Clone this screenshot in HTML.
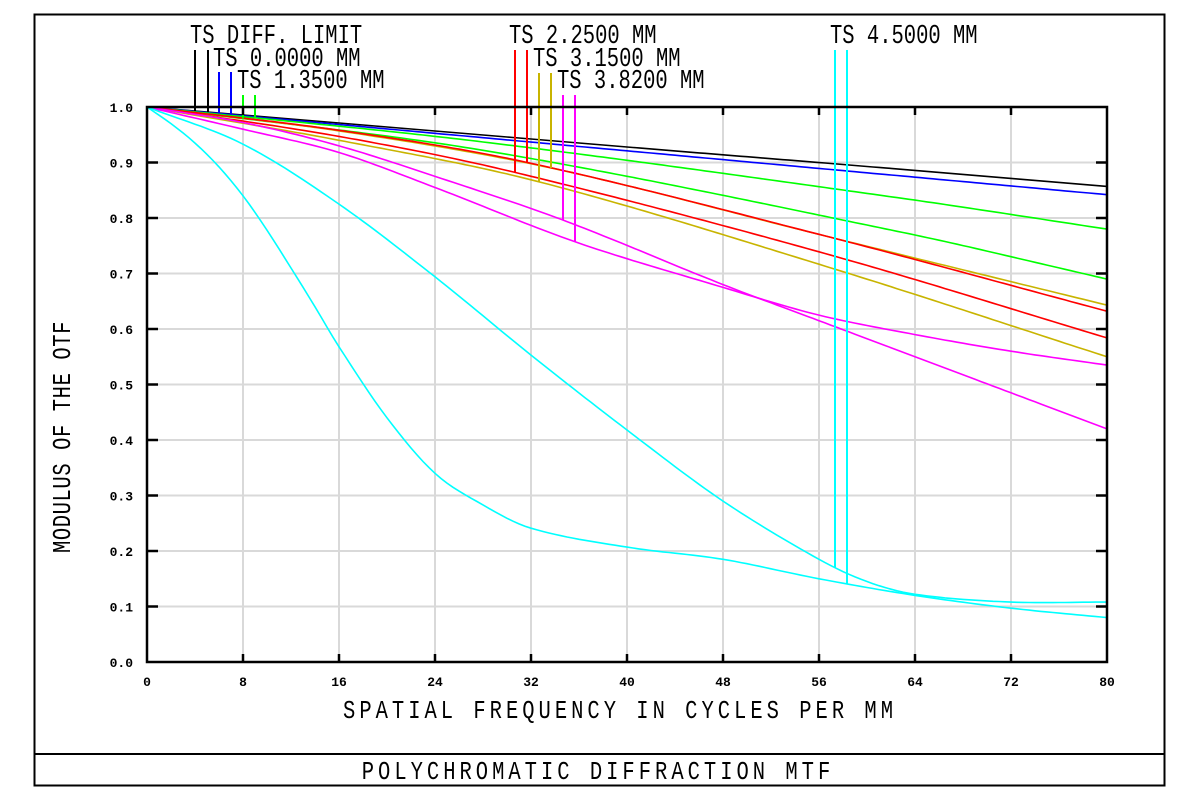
<!DOCTYPE html>
<html><head><meta charset="utf-8"><style>
html,body{margin:0;padding:0;background:#fff;width:1200px;height:802px;overflow:hidden}
svg text{font-family:"Liberation Mono","DejaVu Sans Mono",monospace;fill:#000}
</style></head><body>
<svg id="s" width="1200" height="802" viewBox="0 0 1200 802" xmlns="http://www.w3.org/2000/svg">
<rect x="34.5" y="14.5" width="1130" height="771" fill="none" stroke="#000" stroke-width="2"/>
<line x1="34" y1="754" x2="1165" y2="754" stroke="#000" stroke-width="2"/>
<g id="grid" stroke="#d9d9d9" stroke-width="2"></g>
<g id="curves" fill="none" stroke-width="1.6"></g>
<rect x="147" y="107" width="960" height="555" fill="none" stroke="#000" stroke-width="2.5"/>
<g id="ticks" stroke="#000" stroke-width="2.5"></g>
<g id="labs" font-size="13" font-weight="bold"></g>
<g font-size="20.5">
<text transform="translate(190,43) scale(1,1.3)">TS DIFF. LIMIT</text>
<text transform="translate(213,66) scale(1,1.3)">TS 0.0000 MM</text>
<text transform="translate(237,88) scale(1,1.3)">TS 1.3500 MM</text>
<text transform="translate(509,43) scale(1,1.3)">TS 2.2500 MM</text>
<text transform="translate(533,66) scale(1,1.3)">TS 3.1500 MM</text>
<text transform="translate(557,88) scale(1,1.3)">TS 3.8200 MM</text>
<text transform="translate(830,43) scale(1,1.3)">TS 4.5000 MM</text>
<text transform="translate(620,718) scale(1,1.25)" text-anchor="middle" letter-spacing="4">SPATIAL FREQUENCY IN CYCLES PER MM</text>
<text transform="translate(598,779) scale(1,1.25)" text-anchor="middle" letter-spacing="4">POLYCHROMATIC DIFFRACTION MTF</text>
<text transform="translate(70,437) rotate(-90) scale(1,1.25)" text-anchor="middle" letter-spacing="0.6">MODULUS OF THE OTF</text>
</g>
</svg>
<script>
var NS="http://www.w3.org/2000/svg";
function X(f){return 147+12*f}
function Y(v){return 662-555*v}
function el(p,t,a){var e=document.createElementNS(NS,t);for(var k in a)e.setAttribute(k,a[k]);document.getElementById(p).appendChild(e);return e}
for(var i=1;i<10;i++){el("grid","line",{x1:X(i*8),y1:107,x2:X(i*8),y2:662});}
for(var i=1;i<10;i++){el("grid","line",{x1:147,y1:Y(i/10),x2:1107,y2:Y(i/10)});}
for(var i=1;i<10;i++){var x=X(i*8);el("ticks","line",{x1:x,y1:662,x2:x,y2:654});el("ticks","line",{x1:x,y1:107,x2:x,y2:115});}
for(var i=1;i<10;i++){var y=Y(i/10);el("ticks","line",{x1:147,y1:y,x2:158,y2:y});el("ticks","line",{x1:1107,y1:y,x2:1096,y2:y});}
for(var i=0;i<=10;i++){var t=el("labs","text",{x:133,y:Y(i/10)+5,"text-anchor":"end"});t.textContent=(i/10).toFixed(1);}
for(var i=0;i<=10;i++){var t=el("labs","text",{x:X(i*8),y:686,"text-anchor":"middle"});t.textContent=String(i*8);}
var C=[
["#000",[[0,1],[40,0.928],[62.75,0.888],[80,0.857]]],
["#0000ff",[[0,1],[40,0.921],[62.75,0.876],[80,0.842]]],
["#00ff00",[[0,1],[28,0.937],[62.75,0.836],[80,0.78]]],
["#00ff00",[[0,1],[28,0.922],[62.75,0.775],[80,0.69]]],
["#c8b400",[[0,1],[16,0.957],[33.7,0.89],[57,0.765],[80,0.643]]],
["#ff0000",[[0,1],[16,0.958],[31.7,0.9],[57,0.765],[80,0.632]]],
["#ff0000",[[0,1],[16,0.947],[30.7,0.882],[57,0.733],[80,0.584]]],
["#c8b400",[[0,1],[16,0.94],[32.7,0.865],[57,0.71],[80,0.55]]],
["#ff00ff",[[0,1],[8,0.972],[16,0.93],[24,0.875],[34.7,0.796],[48,0.68],[56,0.615],[64,0.55],[72,0.485],[80,0.42]]],
["#ff00ff",[[0,1],[8,0.96],[16,0.918],[24,0.855],[35.7,0.757],[48,0.675],[56,0.625],[64,0.59],[72,0.56],[80,0.535]]],
["#00ffff",[[0,1],[8,0.933],[16,0.825],[24,0.694],[32,0.553],[40,0.418],[48,0.29],[56,0.185],[60,0.145],[64,0.122],[72,0.108],[80,0.108]]],
["#00ffff",[[0,1],[2,0.97],[4,0.935],[6,0.892],[8,0.84],[10,0.778],[12,0.71],[14,0.64],[16,0.568],[20,0.44],[24,0.34],[28,0.283],[32,0.241],[40,0.207],[48,0.185],[56,0.15],[64,0.12],[72,0.097],[80,0.08]]]
];
function spline(p,f){
 var n=p.length,i=0;while(i<n-2&&f>p[i+1][0])i++;
 var p0=p[Math.max(i-1,0)],p1=p[i],p2=p[i+1],p3=p[Math.min(i+2,n-1)];
 var t=(f-p1[0])/(p2[0]-p1[0]);
 var h=p2[0]-p1[0];
 var m1=(p2[1]-p0[1])/(p2[0]-p0[0]||1)*h, m2=(p3[1]-p1[1])/(p3[0]-p1[0]||1)*h;
 if(i==0)m1=(p2[1]-p1[1]);
 if(i+2>=n)m2=(p2[1]-p1[1]);
 var t2=t*t,t3=t2*t;
 return (2*t3-3*t2+1)*p1[1]+(t3-2*t2+t)*m1+(-2*t3+3*t2)*p2[1]+(t3-t2)*m2;
}
C.forEach(function(c){var d="";for(var f=0;f<=80.001;f+=0.5){d+=(f?"L":"M")+X(f).toFixed(1)+","+Y(spline(c[1],f)).toFixed(1);}el("curves","path",{d:d,stroke:c[0]});});
var L=[[195,50,0],[208,50,0],[219,72,1],[231,72,1],[243,95,3],[255,95,2],[515,50,6],[527,50,5],[539,73,7],[551,73,4],[563,95,8],[575,95,9],[835,50,10],[847,50,11]];
L.forEach(function(l){var c=C[l[2]];var f=(l[0]-147)/12;el("curves","line",{x1:l[0],y1:l[1],x2:l[0],y2:Y(spline(c[1],f)),stroke:c[0],"stroke-width":2});});
</script>
</body></html>
